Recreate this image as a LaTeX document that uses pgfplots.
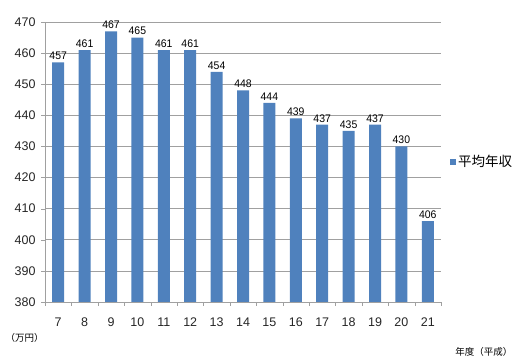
\documentclass[border=0pt]{standalone}
\usepackage{fontspec}
\setmainfont{Liberation Sans}
\newfontfamily\jp{Noto Sans CJK JP}
\usepackage{pgfplots}
\pgfplotsset{compat=1.18}
\definecolor{barblue}{HTML}{4F81BD}
\definecolor{gridgray}{HTML}{A0A0A0}
\begin{document}
\begin{tikzpicture}[x=1pt,y=1pt]
\path[use as bounding box] (0,0) rectangle (524,363);
\begin{axis}[
  at={(45pt,61pt)}, anchor=south west,
  scale only axis, width=396pt, height=280pt,
  ymin=380, ymax=470, ytick={380,390,...,470},
  xmin=-0.5, xmax=14.5,
  xtick={0,...,14},
  xticklabels={7,8,9,10,11,12,13,14,15,16,17,18,19,20,21},
  minor xtick={-0.5,0.5,...,14.5},
  axis x line*=bottom, axis y line*=left,
  axis line style={gridgray, -},
  ymajorgrids, grid style={gridgray, line width=0.6pt},
  tick align=outside,
  major tick length=4pt, minor tick length=4pt,
  xtick style={draw=none},
  minor x tick style={draw=gridgray},
  ytick style={draw=gridgray},
  /pgf/number format/assume math mode=true,
  ticklabel style={font=\fontsize{12.5}{14}\selectfont, text=black!85},
  xticklabel style={yshift=-8pt},
  yticklabel style={xshift=-2pt},
  ybar, bar width=12pt,
  nodes near coords,
  every node near coord/.append style={font=\fontsize{11}{12}\selectfont, yshift=-1pt, xscale=0.95},
  legend style={at={(1.015,0.5)}, anchor=west, draw=none, fill=none,
    font=\jp\fontsize{13.5}{15}\selectfont},
  legend image code/.code={\fill[barblue] (0pt,-3pt) rectangle (6pt,3pt);},
]
\addplot[fill=barblue, draw=none] coordinates {
(0,457) (1,461) (2,467) (3,465) (4,461) (5,461) (6,454) (7,448)
(8,444) (9,439) (10,437) (11,435) (12,437) (13,430) (14,406)};
\addlegendentry{平均年収}
\end{axis}
\node[font=\jp\fontsize{9.5}{11}\selectfont, anchor=west] at (2,25) {（万円）};
\node[font=\jp\fontsize{9.5}{11}\selectfont, anchor=east] at (516,11) {年度（平成）};
\end{tikzpicture}
\end{document}
